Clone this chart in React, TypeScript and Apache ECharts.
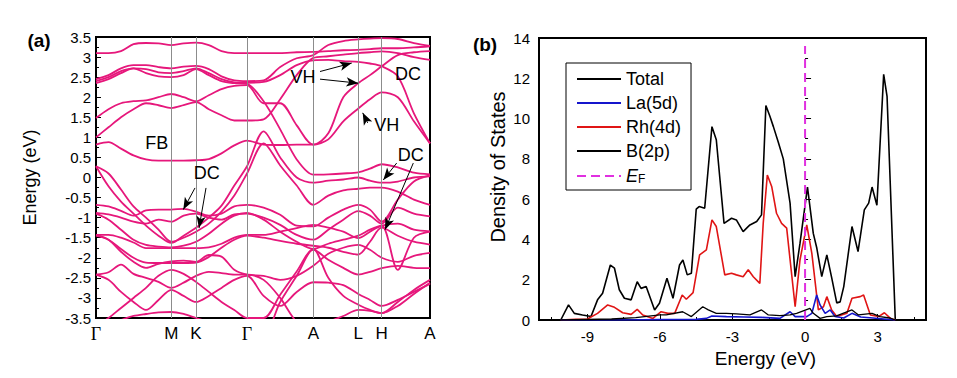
import React, { useEffect, useRef } from "react";
import * as echarts from "echarts";

// ---------- (a) band structure ----------
const kPath = [0, 12.5, 25, 37.5, 50, 62.5, 75.3, 87.6, 100, 112.8, 125.5, 138.3, 151, 167.6, 184.2, 200.7, 217.3, 232.3, 247.3, 262.3, 274, 285.7, 301.8, 317.9, 334];
const kSymbolPos = [0, 75.3, 100, 151, 217.3, 262.3, 285.7, 334];
const kSymbolNames = ["Γ", "M", "K", "Γ", "A", "L", "H", "A"];

const band01 = [3.10, 3.10, 3.15, 3.32, 3.35, 3.34, 3.30, 3.34, 3.36, 3.30, 3.15, 3.10, 3.10, 3.10, 3.10, 3.12, 3.13, 3.15, 3.17, 3.18, 3.20, 3.22, 3.22, 3.24, 3.27];
const band02 = [2.45, 2.55, 2.72, 2.80, 2.80, 2.75, 2.72, 2.76, 2.78, 2.70, 2.52, 2.42, 2.40, 2.42, 2.75, 2.97, 3.05, 3.30, 3.40, 3.44, 3.46, 3.47, 3.45, 3.35, 3.28];
const band03 = [2.40, 2.50, 2.65, 2.72, 2.70, 2.62, 2.60, 2.65, 2.72, 2.60, 2.45, 2.37, 2.36, 2.38, 2.55, 2.80, 2.92, 2.93, 2.90, 2.88, 2.84, 2.77, 2.52, 1.60, 0.85];
const band04 = [0.82, 0.88, 0.72, 0.55, 0.45, 0.42, 0.42, 0.42, 0.43, 0.46, 0.60, 0.80, 0.92, 0.82, 0.81, 0.82, 0.82, 1.10, 2.00, 2.35, 2.55, 2.77, 3.05, 3.12, 3.15];
const band05 = [2.35, 2.45, 2.60, 2.72, 2.60, 2.52, 2.50, 2.55, 2.70, 2.55, 2.40, 2.35, 2.33, 1.90, 1.20, 0.45, 0.07, 0.08, 0.10, 0.13, 0.22, 0.33, 0.25, 0.12, 0.08];
const band06 = [1.48, 1.70, 1.85, 1.90, 1.92, 2.00, 2.08, 2.00, 1.90, 2.05, 2.20, 2.28, 2.30, 1.85, 1.85, 1.30, 0.82, 0.95, 1.40, 1.72, 1.95, 2.12, 2.00, 1.40, 0.85];
const band07 = [1.00, 1.25, 1.50, 1.70, 1.85, 1.80, 1.73, 1.80, 1.88, 1.70, 1.55, 1.42, 1.42, 1.45, 1.95, 2.55, 2.98, 3.02, 3.06, 3.10, 3.12, 3.14, 3.10, 3.00, 2.93];
const band08 = [0.28, -0.22, -0.60, -0.90, -1.20, -1.45, -1.63, -1.45, -1.25, -1.00, -0.70, -0.20, 0.28, 1.15, 0.50, 0.00, -0.13, -0.08, -0.05, 0.00, -0.08, -0.13, -0.10, 0.00, 0.03];
const band09 = [0.28, 0.10, -0.30, -0.72, -1.00, -1.30, -1.60, -1.50, -1.35, -1.15, -0.85, -0.45, 0.10, 0.85, 0.30, -0.20, -0.68, -0.45, -0.32, -0.28, -0.25, -0.25, -0.35, -0.55, -0.68];
const band10 = [-0.68, -0.72, -0.83, -0.95, -0.82, -0.80, -0.80, -0.78, -0.85, -0.95, -0.90, -0.72, -0.68, -0.75, -0.93, -1.20, -1.22, -1.00, -0.80, -0.68, -0.80, -1.10, -0.55, -0.10, 0.05];
const band11 = [-0.88, -0.92, -1.00, -1.10, -1.15, -1.05, -1.10, -0.95, -0.90, -1.00, -1.05, -0.92, -0.90, -1.00, -1.18, -1.43, -1.55, -1.30, -1.05, -0.84, -0.95, -1.15, -0.75, -0.90, -0.97];
const band12 = [-1.43, -1.43, -1.50, -1.62, -1.76, -1.76, -1.76, -1.76, -1.76, -1.74, -1.65, -1.50, -1.43, -1.43, -1.35, -1.26, -1.18, -1.25, -1.35, -1.51, -1.35, -1.20, -1.15, -1.30, -1.34];
const band13 = [-1.45, -1.55, -1.78, -2.00, -2.12, -2.13, -2.13, -2.13, -2.12, -1.98, -1.75, -1.55, -1.45, -1.50, -1.58, -1.65, -1.70, -1.75, -1.85, -1.92, -1.60, -1.25, -1.45, -1.60, -1.67];
const band14 = [-0.90, -1.05, -1.30, -1.55, -1.68, -1.72, -1.74, -1.70, -1.60, -1.40, -1.15, -0.95, -0.88, -1.05, -1.35, -1.60, -1.78, -1.65, -1.55, -1.45, -1.30, -1.20, -2.30, -1.50, -1.35];
const band15 = [-2.42, -2.36, -2.17, -2.40, -2.50, -2.60, -2.75, -2.62, -2.45, -2.35, -2.38, -2.42, -2.42, -2.55, -3.00, -3.60, -3.80, -3.60, -3.45, -3.30, -3.32, -3.38, -3.20, -2.90, -2.62];
const band16 = [-2.42, -2.55, -2.85, -3.10, -3.30, -3.05, -2.80, -2.95, -3.10, -2.95, -2.75, -2.55, -2.45, -2.95, -3.20, -2.85, -2.61, -2.62, -2.68, -2.90, -3.05, -3.20, -3.05, -2.85, -2.65];
const band17 = [-3.70, -3.50, -3.25, -3.00, -2.75, -2.45, -2.30, -2.40, -2.60, -2.85, -3.10, -3.30, -3.50, -3.50, -2.92, -2.34, -1.80, -2.05, -2.25, -2.42, -2.35, -2.26, -2.20, -2.25, -2.26];
const band18 = [-3.60, -3.65, -3.55, -3.45, -3.40, -3.36, -3.35, -3.40, -3.50, -3.60, -3.70, -3.80, -3.90, -3.90, -3.10, -2.45, -1.78, -2.50, -2.95, -3.17, -3.30, -3.38, -3.10, -2.80, -2.55];
const band19 = [-1.43, -1.55, -1.85, -2.10, -2.25, -2.15, -2.09, -2.07, -2.10, -1.93, -1.97, -2.30, -2.42, -2.45, -2.55, -2.45, -2.20, -1.90, -1.75, -1.68, -1.80, -2.00, -2.10, -1.95, -1.88];
const bands = [band01, band02, band03, band04, band05, band06, band07, band08, band09, band10, band11, band12, band13, band14, band15, band16, band17, band18, band19];

// annotations of (a): text labels and arrows (data coordinates: k, energy)
const annoTexts = ["FB", "DC", "VH", "DC", "VH", "DC"];
const annoPos = [[60.7, 0.85], [110.7, 0.1], [207, 2.5], [312, 2.57], [290.7, 1.3], [314.7, 0.55]];
const arrowFrom = [[224, 2.64], [224, 2.45], [271.7, 1.36], [300.7, 0.36], [317.3, 0.36], [99, -0.26], [110, -0.26]];
const arrowTo = [[255.7, 2.85], [262.3, 2.35], [266.7, 1.61], [287.3, -0.06], [289, -1.3], [87.3, -0.8], [103, -1.26]];

// ---------- (b) density of states ----------
const totalE = [-10.1, -9.78, -9.54, -9.2, -8.85, -8.58, -8.37, -8.05, -7.88, -7.68, -7.47, -7.19, -6.94, -6.78, -6.57, -6.22, -6.02, -5.71, -5.46, -5.19, -5.05, -4.87, -4.7, -4.5, -4.38, -4.15, -3.85, -3.67, -3.35, -3.04, -2.84, -2.56, -2.28, -2.0, -1.8, -1.62, -1.45, -1.31, -1.1, -0.9, -0.62, -0.41, -0.21, 0.1, 0.34, 0.48, 0.69, 0.9, 1.1, 1.31, 1.45, 1.6, 1.94, 2.19, 2.45, 2.63, 2.77, 2.97, 3.25, 3.39, 3.73];
const totalDos = [0, 0.75, 0.33, 0.25, 0.17, 1.0, 1.33, 2.73, 2.57, 1.5, 1.08, 1.0, 1.9, 1.57, 1.66, 0.5, 0.83, 2.07, 1.08, 2.73, 2.98, 2.24, 2.32, 5.5, 5.63, 5.55, 9.6, 8.95, 4.8, 5.05, 4.97, 4.39, 4.72, 4.89, 5.22, 10.65, 10.1, 9.6, 8.8, 8.0, 5.8, 2.15, 3.8, 6.6, 4.3, 3.6, 2.15, 3.23, 2.1, 0.85, 0.9, 1.66, 4.64, 3.4, 5.47, 5.8, 6.6, 5.7, 12.2, 11.1, 0];
const rhE = [-10.1, -9.5, -9.0, -8.58, -8.16, -7.88, -7.54, -7.19, -6.94, -6.71, -6.29, -5.95, -5.67, -5.39, -5.08, -4.91, -4.63, -4.36, -4.08, -3.85, -3.67, -3.32, -3.04, -2.84, -2.56, -2.35, -2.14, -1.87, -1.73, -1.56, -1.38, -1.18, -0.97, -0.76, -0.41, -0.21, 0.07, 0.28, 0.55, 0.76, 0.9, 1.1, 1.31, 1.73, 1.94, 2.28, 2.42, 2.7, 3.04, 3.28, 3.53, 3.73];
const rhDos = [0, 0.03, 0.05, 0.33, 0.75, 0.63, 0.36, 0.28, 0.53, 0.25, 0.08, 0.41, 0.33, 0.33, 1.24, 1.03, 1.36, 3.23, 3.48, 4.97, 4.64, 2.24, 2.32, 2.24, 2.15, 2.49, 2.15, 1.82, 4.8, 7.2, 6.63, 5.3, 4.8, 4.56, 0.66, 2.98, 4.72, 3.31, 0.5, 0.66, 1.16, 0.5, 0.17, 0.33, 1.08, 1.16, 1.24, 0.25, 0.17, 0.36, 0.08, 0];
const laE = [-10.1, -7.5, -6.0, -4.5, -4.08, -3.85, -3.25, -2.5, -1.8, -1.04, -0.62, -0.41, 0.07, 0.28, 0.48, 0.62, 0.83, 1.04, 1.24, 1.6, 1.94, 2.3, 2.8, 3.73];
const laDos = [0, 0, 0.02, 0.03, 0.08, 0.2, 0.17, 0.15, 0.13, 0.08, 0.41, 0.17, 0.17, 0.33, 1.24, 0.75, 0.33, 0.5, 0.17, 0.1, 0.33, 0.15, 0.1, 0];
const bE = [-10.1, -8.0, -7.0, -6.0, -5.74, -5.06, -4.7, -4.23, -4.0, -3.67, -3.25, -2.84, -2.28, -1.8, -1.52, -1.04, -0.62, -0.35, 0.2, 0.34, 0.62, 0.9, 1.3, 1.94, 2.21, 2.77, 3.1, 3.5, 3.73];
const bDos = [0, 0.05, 0.12, 0.25, 0.25, 0.41, 0.17, 0.66, 0.5, 0.33, 0.33, 0.3, 0.25, 0.5, 0.25, 0.22, 0.25, 0.33, 0.58, 0.33, 0.08, 0.17, 0.2, 0.5, 0.25, 0.33, 0.17, 0.1, 0];
const fermiE = [0, 0];
const fermiDos = [0, 13.6];
const dosXLabels = [-9, -6, -3, 0, 3];
const dosXMinor = [-10.5, -7.5, -4.5, -1.5, 1.5, 4.5];

const FONT = "'Liberation Sans', Arial, sans-serif";
const PINK = "#e6177b";

export default function App() {
  const ref = useRef<HTMLDivElement>(null);
  useEffect(() => {
    if (!ref.current) return;
    const chart = echarts.init(ref.current, undefined, { renderer: "svg" });

    const zip = (xs: number[], ys: number[]) => xs.map((x, i) => [x, ys[i]]);

    const bandSeries: any[] = bands.map((b, idx) => {
      const s: any = {
        type: "line",
        xAxisIndex: 0,
        yAxisIndex: 0,
        data: zip(kPath, b),
        symbol: "none",
        showSymbol: false,
        smooth: 0.3,
        silent: true,
        lineStyle: { color: PINK, width: 1.8 },
        z: 3,
      };
      if (idx === 0) {
        s.markLine = {
          silent: true,
          symbol: ["none", "none"],
          label: { show: false },
          lineStyle: { color: "#8c8c8c", width: 1, type: "solid" },
          data: kSymbolPos.slice(1, -1).map((v) => ({ xAxis: v })),
        };
      }
      if (idx === bands.length - 1) {
        s.markLine = {
          silent: true,
          symbol: ["none", "arrow"],
          symbolSize: [7, 12],
          label: { show: false },
          lineStyle: { color: "#000", width: 1, type: "solid" },
          itemStyle: { color: "#000" },
          data: arrowFrom.map((f, i) => [{ coord: f }, { coord: arrowTo[i] }]),
        };
        s.markPoint = {
          silent: true,
          symbol: "circle",
          symbolSize: 0,
          data: annoTexts.map((t, i) => ({
            coord: annoPos[i],
            value: t,
            label: {
              show: true,
              position: "inside",
              formatter: t,
              color: "#000",
              fontSize: 18,
              fontFamily: FONT,
            },
          })),
        };
      }
      return s;
    });

    const dosLine = (name: string, xs: number[], ys: number[], color: string, extra: any = {}) => ({
      name,
      type: "line",
      xAxisIndex: 1,
      yAxisIndex: 1,
      data: zip(xs, ys),
      symbol: "none",
      showSymbol: false,
      silent: true,
      lineStyle: { color, width: 1.6, ...extra },
      itemStyle: { color },
      z: 3,
    });

    const option: any = {
      animation: false,
      backgroundColor: "#ffffff",
      textStyle: { fontFamily: FONT },
      grid: [
        { left: 96, top: 37, width: 334, height: 281, show: true, borderColor: "#000", borderWidth: 2, backgroundColor: "transparent" },
        { left: 539, top: 38, width: 387, height: 282, show: true, borderColor: "#000", borderWidth: 2, backgroundColor: "transparent" },
      ],
      xAxis: [
        {
          type: "value",
          gridIndex: 0,
          min: 0,
          max: 334,
          axisLine: { show: false },
          axisTick: { show: false },
          splitLine: { show: false },
          axisLabel: {
            customValues: kSymbolPos,
            margin: 7,
            color: "#000",
            fontSize: 17,
            fontFamily: FONT,
            formatter: (v: number) => {
              const i = kSymbolPos.indexOf(v);
              const n = i >= 0 ? kSymbolNames[i] : "";
              return n === "Γ" ? "{g|Γ}" : n;
            },
            rich: { g: { fontFamily: "'Liberation Serif', 'Times New Roman', serif", fontSize: 18, color: "#000" } },
          },
        },
        {
          type: "value",
          gridIndex: 1,
          min: -11,
          max: 5,
          axisLine: { show: false },
          splitLine: { show: false },
          axisTick: { show: true, inside: true, length: 6, customValues: dosXLabels, lineStyle: { color: "#000", width: 1 } },
          axisLabel: { customValues: dosXLabels, margin: 9, color: "#000", fontSize: 15, fontFamily: FONT },
          name: "Energy (eV)",
          nameLocation: "middle",
          nameGap: 28,
          nameTextStyle: { fontSize: 19, color: "#000", fontFamily: FONT, padding: [0, 0, 0, 66] },
        },
        {
          type: "value",
          gridIndex: 1,
          min: -11,
          max: 5,
          position: "bottom",
          axisLine: { show: false },
          splitLine: { show: false },
          axisLabel: { show: false },
          axisTick: { show: true, inside: true, length: 3, customValues: dosXMinor, lineStyle: { color: "#000", width: 1 } },
        },
      ],
      yAxis: [
        {
          type: "value",
          gridIndex: 0,
          min: -3.5,
          max: 3.5,
          interval: 0.5,
          axisLine: { show: false },
          splitLine: { show: false },
          axisTick: { show: true, inside: true, length: 5, lineStyle: { color: "#000", width: 1 } },
          minorTick: { show: true, splitNumber: 2, length: 3, lineStyle: { color: "#000", width: 1 } },
          axisLabel: { margin: 5, color: "#000", fontSize: 15, fontFamily: FONT },
          name: "Energy (eV)",
          nameLocation: "middle",
          nameGap: 57,
          nameTextStyle: { fontSize: 18, color: "#000", fontFamily: FONT },
        },
        {
          type: "value",
          gridIndex: 1,
          min: 0,
          max: 14,
          interval: 2,
          axisLine: { show: false },
          splitLine: { show: false },
          axisTick: { show: true, inside: true, length: 6, lineStyle: { color: "#000", width: 1 } },
          minorTick: { show: true, splitNumber: 2, length: 3, lineStyle: { color: "#000", width: 1 } },
          axisLabel: { margin: 9, color: "#000", fontSize: 15, fontFamily: FONT },
          name: "Density of States",
          nameLocation: "middle",
          nameGap: 31,
          nameTextStyle: { fontSize: 20, color: "#000", fontFamily: FONT, padding: [0, 0, 0, 24] },
        },
      ],
      legend: {
        show: true,
        orient: "vertical",
        left: 566,
        top: 63,
        padding: [7, 10, 5, 10],
        itemWidth: 44,
        itemHeight: 14,
        itemGap: 6,
        itemStyle: { opacity: 0 },
        borderColor: "#000",
        borderWidth: 1,
        backgroundColor: "#fff",
        data: ["Total", "La(5d)", "Rh(4d)", "B(2p)", "EF"],
        formatter: (name: string) => (name === "EF" ? "{i|E}{s|F}" : name),
        textStyle: {
          fontSize: 18,
          color: "#000",
          fontFamily: FONT,
          rich: {
            i: { fontSize: 18, lineHeight: 18, verticalAlign: "top", fontStyle: "italic", fontFamily: FONT, color: "#000" },
            s: { fontSize: 12, lineHeight: 12, verticalAlign: "bottom", fontFamily: FONT, color: "#000", padding: [7, 0, 0, 0] },
          },
        },
      },
      graphic: [
        { type: "text", x: 39, y: 40, style: { text: "(a)", font: `bold 19px ${FONT}`, fill: "#000", textAlign: "center", textVerticalAlign: "middle" } },
        { type: "text", x: 485, y: 44, style: { text: "(b)", font: `bold 19px ${FONT}`, fill: "#000", textAlign: "center", textVerticalAlign: "middle" } },
      ],
      series: [
        ...bandSeries,
        dosLine("Total", totalE, totalDos, "#000000"),
        dosLine("Rh(4d)", rhE, rhDos, "#e01515"),
        dosLine("La(5d)", laE, laDos, "#1515cc"),
        dosLine("B(2p)", bE, bDos, "#000000", { width: 1.3 }),
        dosLine("EF", fermiE, fermiDos, "#e030e0", { type: [9, 5], width: 2 }),
      ],
    };
    chart.setOption(option);
    return () => chart.dispose();
  }, []);
  return <div ref={ref} style={{ position: "fixed", left: 0, top: 0, width: 957, height: 378, background: "#fff" }} />;
}
